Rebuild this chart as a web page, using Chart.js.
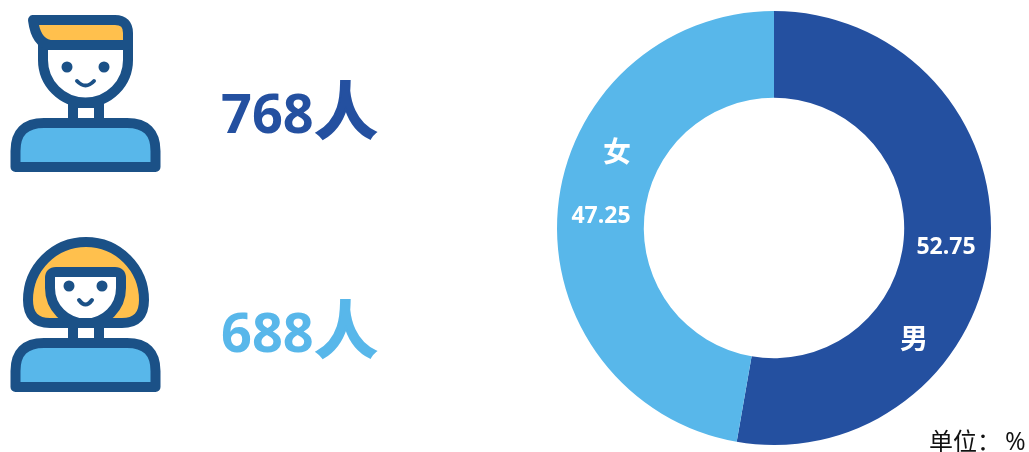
<!DOCTYPE html>
<html>
<head>
<meta charset="utf-8">
<script src="https://cdn.jsdelivr.net/npm/chart.js@4/dist/chart.umd.min.js"></script>
<style>
  html, body { margin: 0; padding: 0; background: #fff; overflow: hidden; }
  canvas { display: block; }
</style>
</head>
<body>
<canvas id="myChart" width="1029" height="452"></canvas>
<script>
const categorias = ['男', '女']
const percentuais = [52.75, 47.25]
const rotulosValor = ['52.75', '47.25']
const contagens = ['768', '688']
const unidadePessoa = '人'
const unidade = '单位：'
const unidadeSimbolo = '%'

const azulEscuro = '#2450a0'
const azulClaro = '#58b7ea'
const contorno = '#1b5187'
const amarelo = '#ffc04d'

const FONTE = '"Open Sans", "Noto Sans CJK SC", sans-serif'
const CJK = '"Noto Sans CJK SC", sans-serif'

// desenha tronco, pescoco e olhos, iguais nos dois icones
function corpo(c, dy, olhoX, olhoY, bocaY) {
  c.strokeStyle = contorno
  c.lineWidth = 10
  c.lineJoin = 'round'
  c.lineCap = 'round'

  c.fillStyle = '#fff'
  c.fillRect(73, 103 + dy, 26, 20)
  c.strokeRect(73, 103 + dy, 26, 20)

  c.beginPath()
  c.moveTo(44, 123 + dy)
  c.lineTo(127, 123 + dy)
  c.quadraticCurveTo(155.5, 123 + dy, 155.5, 151 + dy)
  c.lineTo(155.5, 167 + dy)
  c.lineTo(15.5, 167 + dy)
  c.lineTo(15.5, 151 + dy)
  c.quadraticCurveTo(15.5, 123 + dy, 44, 123 + dy)
  c.closePath()
  c.fillStyle = azulClaro
  c.fill()
  c.stroke()

  c.fillStyle = contorno
  olhoX.forEach(function (x) {
    c.beginPath()
    c.arc(x, olhoY, 5.5, 0, Math.PI * 2)
    c.fill()
  })

  c.lineWidth = 4
  c.beginPath()
  c.moveTo(olhoX[0] + 10, bocaY)
  c.quadraticCurveTo((olhoX[0] + olhoX[1]) / 2, bocaY + 9, olhoX[1] - 10, bocaY)
  c.stroke()
}

function iconeHomem(c) {
  c.strokeStyle = contorno
  c.lineWidth = 10
  c.lineJoin = 'round'

  // rosto
  c.beginPath()
  c.moveTo(43, 45)
  c.lineTo(43, 60)
  c.arc(85.5, 60, 42.5, Math.PI, 0, true)
  c.lineTo(128, 45)
  c.closePath()
  c.fillStyle = '#fff'
  c.fill()
  c.stroke()

  // cabelo
  c.beginPath()
  c.moveTo(33, 20)
  c.lineTo(115, 20)
  c.quadraticCurveTo(128, 20, 128, 33)
  c.lineTo(128, 45)
  c.lineTo(50, 45)
  c.quadraticCurveTo(36, 43, 33, 20)
  c.closePath()
  c.fillStyle = amarelo
  c.fill()
  c.stroke()

  corpo(c, 0, [67, 104], 67, 81)
}

function iconeMulher(c) {
  c.strokeStyle = contorno
  c.lineWidth = 10
  c.lineJoin = 'round'

  // cabelo
  c.beginPath()
  c.moveTo(60, 323)
  c.lineTo(50, 323)
  c.quadraticCurveTo(28, 323, 28, 300)
  c.arc(86, 300, 58, Math.PI, 0)
  c.quadraticCurveTo(144, 323, 122, 323)
  c.lineTo(110, 323)
  c.closePath()
  c.fillStyle = amarelo
  c.fill()
  c.stroke()

  // rosto
  c.beginPath()
  c.moveTo(56, 272)
  c.lineTo(115, 272)
  c.quadraticCurveTo(121, 272, 121, 278)
  c.lineTo(121, 288)
  c.arc(85.5, 288, 35.5, 0, Math.PI)
  c.lineTo(50, 278)
  c.quadraticCurveTo(50, 272, 56, 272)
  c.closePath()
  c.fillStyle = '#fff'
  c.fill()
  c.stroke()

  corpo(c, 220, [69, 102], 286, 300)
}

function texto(c, t, x, y, fonte, cor, alinhamento, reforco) {
  c.font = fonte
  c.fillStyle = cor
  c.textAlign = alinhamento || 'center'
  c.textBaseline = 'alphabetic'
  c.fillText(t, x, y)
  if (reforco) {
    c.strokeStyle = cor
    c.lineWidth = reforco
    c.lineJoin = 'miter'
    c.strokeText(t, x, y)
  }
}

const extras = {
  id: 'extras',
  afterDraw(chart) {
    const c = chart.ctx
    c.save()
    iconeHomem(c)
    iconeMulher(c)

    texto(c, contagens[0], 221, 133, 'bold 54px ' + FONTE, azulEscuro, 'left')
    texto(c, unidadePessoa, 346, 134, 'bold 62px ' + CJK, azulEscuro, 'center', 2)
    texto(c, contagens[1], 221, 352, 'bold 54px ' + FONTE, azulClaro, 'left')
    texto(c, unidadePessoa, 346, 353, 'bold 62px ' + CJK, azulClaro, 'center', 2)

    texto(c, categorias[0], 914, 349, 'bold 28px ' + CJK, '#fff')
    texto(c, rotulosValor[0], 946, 254, 'bold 23px ' + FONTE, '#fff')
    texto(c, categorias[1], 617, 162, 'bold 28px ' + CJK, '#fff')
    texto(c, rotulosValor[1], 601, 223, 'bold 23px ' + FONTE, '#fff')

    texto(c, unidade, 929, 450, '24px ' + CJK, '#111', 'left')
    texto(c, unidadeSimbolo, 1005, 450, '25px ' + FONTE, '#111', 'left')
    c.restore()
  }
}

const ctx = document.getElementById('myChart')

const data = {
  labels: categorias,
  datasets: [{
    data: percentuais,
    backgroundColor: [azulEscuro, azulClaro],
    borderWidth: 0
  }]
}

const config = {
  type: 'doughnut',
  data: data,
  options: {
    responsive: false,
    animation: false,
    cutout: '60%',
    layout: { padding: { left: 557, right: 38, top: 11, bottom: 7 } },
    plugins: {
      legend: { display: false },
      tooltip: { enabled: false }
    }
  },
  plugins: [extras]
}

const myChart = new Chart(ctx, config)
</script>
</body>
</html>
